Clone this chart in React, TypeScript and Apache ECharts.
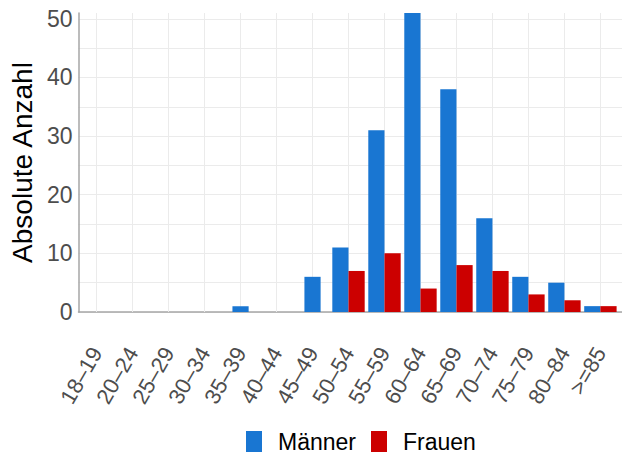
import React, { useEffect, useRef } from "react";
import * as echarts from "echarts";

const categories = ["18–19", "20–24", "25–29", "30–34", "35–39", "40–44", "45–49", "50–54", "55–59", "60–64", "65–69", "70–74", "75–79", "80–84", ">=85"];
const maenner = [0, 0, 0, 0, 1, 0, 6, 11, 31, 51, 38, 16, 6, 5, 1];
const frauen = [0, 0, 0, 0, 0, 0, 0, 7, 10, 4, 8, 7, 3, 2, 1];
const yTicks = [0, 10, 20, 30, 40, 50];

const FONT = "'Liberation Sans', Arial, sans-serif";
const GRID = "#ebebeb";

// categories where only Männer have a bar: that bar sits centred on its category
const maennerPaired = maenner.map((v, i) => (frauen[i] > 0 ? v : "-"));
const maennerLone = maenner.map((v, i) => (frauen[i] > 0 ? "-" : v));

export default function App() {
  const ref = useRef<HTMLDivElement>(null);
  useEffect(() => {
    if (!ref.current) return;
    const chart = echarts.init(ref.current, null, { renderer: "svg" });
    const gridColors = [...Array(11).fill(GRID), "rgba(0,0,0,0)"];
    const left = 75;
    const plotW = 622 - left;
    const unit = plotW / 15.2;
    const pad = unit * 0.1;
    const barW = unit * 0.45;
    chart.setOption({
      animation: false,
      textStyle: { fontFamily: FONT },
      grid: [
        { left, right: 0, top: 13, bottom: 142, containLabel: false },
        { left: left + pad, right: pad, top: 13, bottom: 142, containLabel: false },
      ],
      legend: {
        top: 430,
        left: 246,
        padding: 0,
        itemWidth: 16,
        itemHeight: 21,
        itemGap: 15,
        icon: "rect",
        textStyle: { fontSize: 23, color: "#000", fontFamily: FONT, padding: [2, 0, 0, 11], lineHeight: 21 },
        data: ["Männer", "Frauen"],
      },
      xAxis: [
        {
          type: "value",
          gridIndex: 0,
          min: 0,
          max: 1,
          axisLine: { show: true, onZero: false, lineStyle: { color: "#a6a6a6", width: 1.5 } },
          axisTick: { show: false },
          axisLabel: { show: false },
          splitLine: { show: false },
        },
        {
          type: "category",
          gridIndex: 1,
          data: categories,
          boundaryGap: true,
          axisLine: { show: false },
          axisTick: { show: false, alignWithLabel: true },
          splitLine: { show: true, alignWithLabel: true, lineStyle: { color: GRID, width: 1 } },
          axisLabel: { rotate: 60, fontSize: 22, color: "#4d4d4d", margin: 37, interval: 0, fontFamily: FONT },
          z: 1,
        },
        {
          type: "category",
          gridIndex: 1,
          data: categories,
          boundaryGap: true,
          show: false,
        },
      ],
      yAxis: [
        {
          type: "value",
          gridIndex: 0,
          min: 0,
          max: 51,
          interval: 10,
          name: "Absolute Anzahl",
          nameLocation: "middle",
          nameRotate: 90,
          nameGap: 38,
          nameTextStyle: { fontSize: 28, color: "#000", fontFamily: FONT },
          axisLine: { show: true, lineStyle: { color: "#a6a6a6", width: 1.5 } },
          axisTick: { show: false },
          splitLine: { show: false },
          axisLabel: {
            fontSize: 23,
            color: "#4d4d4d",
            margin: 6,
            showMaxLabel: false,
            fontFamily: FONT,
            formatter: (v: number) => (yTicks.includes(v) ? String(v) : ""),
          },
          z: 5,
        },
        {
          type: "value",
          gridIndex: 0,
          min: 0,
          max: 51,
          interval: 5,
          show: true,
          position: "left",
          axisLine: { show: false },
          axisTick: { show: false },
          axisLabel: { show: false },
          splitLine: { show: true, lineStyle: { color: gridColors, width: 1 } },
        },
        {
          type: "value",
          gridIndex: 1,
          min: 0,
          max: 51,
          show: false,
        },
      ],
      series: [
        {
          name: "Männer",
          type: "bar",
          xAxisIndex: 1,
          yAxisIndex: 2,
          data: maennerPaired,
          itemStyle: { color: "#1976D2" },
          barWidth: barW,
          barGap: "0%",
          z: 3,
        },
        {
          name: "Frauen",
          type: "bar",
          xAxisIndex: 1,
          yAxisIndex: 2,
          data: frauen,
          itemStyle: { color: "#CC0000" },
          barWidth: barW,
          barGap: "0%",
          z: 3,
        },
        {
          name: "Männer",
          type: "bar",
          xAxisIndex: 2,
          yAxisIndex: 2,
          data: maennerLone,
          itemStyle: { color: "#1976D2" },
          barWidth: barW,
          z: 3,
        },
      ],
    });
    return () => chart.dispose();
  }, []);
  return <div ref={ref} style={{ width: 622, height: 454, position: "absolute", left: 0, top: 0 }} />;
}
